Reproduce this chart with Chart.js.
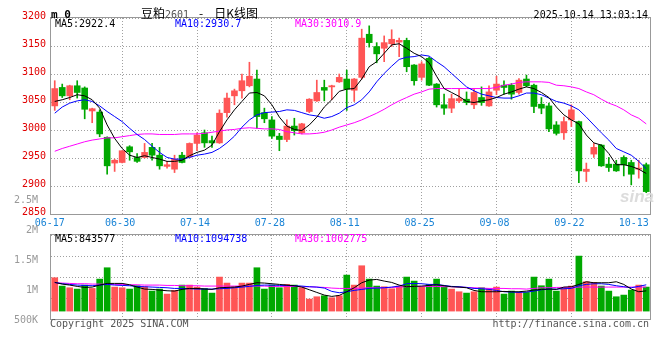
<!DOCTYPE html>
<html><head><meta charset="utf-8">
<script src="https://cdn.jsdelivr.net/npm/chart.js@4"></script>
<style>
html,body{margin:0;padding:0;background:#fff;}
#wrap{position:relative;width:660px;height:360px;overflow:hidden;background:#fff;}
canvas{position:absolute;left:0;}
.t{position:absolute;white-space:nowrap;font-family:'DejaVu Sans Mono','Liberation Mono',monospace;font-size:10px;line-height:10px;color:#000;}
</style></head><body>
<div id="wrap">
<canvas id="priceChart" width="660" height="232" style="top:0"></canvas>
<canvas id="volChart" width="660" height="170" style="top:190px"></canvas>
<div class="t" style="left:51px;top:9px;font-size:11px;line-height:11px;font-weight:bold">m 0</div>
<div class="t" style="left:141px;top:7px;font-family:'Noto Sans CJK SC',sans-serif;font-size:12px;line-height:12px">豆粕<span style="font-family:'DejaVu Sans Mono',monospace;font-size:10px;color:#555">2601</span><span style="margin-left:10px">-</span><span style="margin-left:11px">日K线图</span></div>
<div class="t" style="right:12px;top:10px">2025-10-14 13:03:14</div>
<div class="t" id="pma5" style="left:55px;top:19px;color:#000"></div>
<div class="t" id="pma10" style="left:175px;top:19px;color:#0000ff"></div>
<div class="t" id="pma30" style="left:295px;top:19px;color:#ff00ff"></div>
<div class="t" id="vma5" style="left:55px;top:234px;color:#000"></div>
<div class="t" id="vma10" style="left:175px;top:234px;color:#0000ff"></div>
<div class="t" id="vma30" style="left:295px;top:234px;color:#ff00ff"></div>
<div class="t" style="left:50px;top:319px;color:#555">Copyright 2025 SINA.COM</div>
<div class="t" style="right:11px;top:319px;color:#555">http://finance.sina.com.cn</div>
<div class="t" style="left:620px;top:188px;font-family:'Liberation Sans',sans-serif;font-size:17px;line-height:17px;font-style:italic;font-weight:bold;color:#dcdcdc">sina</div>
</div>
<script>
const dates = ['06-17','06-18','06-19','06-20','06-23','06-24','06-25','06-26','06-27','06-30',
'07-01','07-02','07-03','07-04','07-07','07-08','07-09','07-10','07-11','07-14',
'07-15','07-16','07-17','07-18','07-21','07-22','07-23','07-24','07-25','07-28',
'07-29','07-30','07-31','08-01','08-04','08-05','08-06','08-07','08-08','08-11',
'08-12','08-13','08-14','08-15','08-18','08-19','08-20','08-21','08-22','08-25',
'08-26','08-27','08-28','08-29','09-01','09-02','09-03','09-04','09-05','09-08',
'09-09','09-10','09-11','09-12','09-15','09-16','09-17','09-18','09-19','09-22',
'09-23','09-24','09-25','09-26','09-29','09-30','10-09','10-10','10-13','10-14'];

const openPrice = [3043,3076,3061,3079,3075,3034,3032,2987,2941,2942,
 2970,2951,2951,2969,2955,2935,2930,2955,2952,2976,
 2995,2981,2977,3031,3061,3070,3079,3091,3031,3018,
 2989,2983,3007,2995,3033,3052,3076,3077,3086,3091,
 3071,3094,3171,3149,3146,3154,3157,3160,3116,3094,
 3128,3082,3045,3039,3052,3055,3045,3058,3043,3071,
 3080,3080,3067,3091,3080,3046,3043,3009,2995,3018,
 3015,2926,2957,2973,2939,2939,2951,2942,2930,2938];
const closePrice = [3074,3061,3079,3067,3037,3038,2993,2936,2946,2963,
 2961,2944,2960,2955,2936,2938,2948,2942,2976,2991,
 2977,2977,3030,3057,3070,3088,3096,3024,3020,2989,
 2983,3007,2999,3011,3055,3067,3071,3079,3094,3073,
 3091,3164,3156,3136,3156,3162,3160,3113,3088,3118,
 3080,3045,3039,3056,3056,3049,3067,3049,3068,3082,
 3076,3064,3089,3079,3042,3039,3002,2994,3015,3036,
 2927,2930,2969,2936,2933,2927,2938,2921,2932,2890];
const highPrice = [3088,3082,3080,3088,3077,3039,3036,2988,2948,2963,
 2972,2958,2976,2976,2969,2944,2955,2960,2977,2995,
 3000,2989,3036,3066,3073,3100,3121,3107,3039,3024,
 2994,3018,3021,3012,3056,3089,3089,3080,3100,3107,
 3092,3180,3186,3156,3168,3179,3164,3164,3117,3122,
 3130,3083,3064,3064,3074,3068,3074,3077,3079,3096,
 3088,3083,3092,3098,3082,3058,3048,3015,3023,3045,
 3016,2941,2976,2974,2951,2946,2954,2946,2946,2941];
const lowPrice = [3035,3058,3054,3057,3020,3013,2988,2921,2926,2941,
 2946,2942,2950,2946,2930,2932,2924,2941,2951,2963,
 2969,2969,2976,3023,3045,3057,3077,3003,3013,2985,
 2963,2979,2991,2993,3031,3051,3052,3054,3085,3035,
 3051,3091,3148,3120,3122,3149,3131,3104,3080,3089,
 3079,3041,3028,3031,3049,3045,3038,3044,3042,3063,
 3064,3055,3064,3077,3031,3029,2997,2991,2983,3006,
 2906,2908,2951,2935,2926,2926,2918,2902,2914,2888];

const ma5Price = [3051,3054,3058,3063,3061,3054,3039,3009,2985,2967,
 2955,2951,2954,2951,2948,2944,2944,2946,2954,2960,
 2964,2973,2997,3018,3036,3051,3066,3067,3061,3045,
 3023,3007,3001,2999,3009,3023,3041,3054,3069,3073,
 3074,3091,3113,3122,3137,3152,3154,3146,3137,3131,
 3120,3096,3074,3067,3060,3051,3049,3052,3054,3058,
 3064,3068,3073,3077,3074,3067,3058,3041,3027,3018,
 3011,2991,2977,2973,2958,2938,2938,2935,2930,2922.4];
const ma10Price = [3030,3041,3048,3052,3054,3051,3043,3033,3024,3015,
 3003,2992,2983,2971,2960,2951,2948,2948,2951,2955,
 2957,2960,2967,2977,2989,3005,3018,3027,3031,3032,
 3033,3036,3035,3031,3027,3025,3021,3024,3030,3040,
 3045,3054,3068,3086,3101,3114,3126,3130,3131,3134,
 3132,3122,3113,3101,3089,3077,3070,3064,3061,3058,
 3057,3057,3061,3066,3066,3063,3057,3051,3048,3043,
 3036,3023,3009,2995,2982,2967,2961,2955,2944,2930.7];
const ma30Price = [2962,2967,2971,2975,2979,2982,2984,2986,2986,2988,
 2990,2992,2993,2993,2992,2992,2992,2993,2993,2993,
 2994,2996,2998,3000,3001,3003,3004,3003,3002,3002,
 3001,2997,2995,2993,2993,2994,2996,3000,3005,3009,
 3013,3018,3024,3030,3037,3045,3052,3058,3064,3068,
 3073,3074,3074,3074,3074,3074,3074,3074,3074,3076,
 3080,3082,3085,3086,3086,3086,3085,3080,3079,3077,
 3074,3068,3063,3055,3048,3043,3036,3027,3021,3010.9];

const volume = [1389000,1042000,972000,917000,1083000,944000,1333000,1806000,1000000,972000,
 917000,1056000,1014000,833000,917000,708000,861000,1083000,1083000,1000000,
 944000,750000,1417000,1167000,1014000,1167000,1167000,1806000,917000,1083000,
 972000,1111000,1083000,972000,500000,597000,639000,556000,639000,1500000,
 1083000,1889000,1333000,1042000,1014000,931000,1042000,1417000,1250000,1000000,
 1111000,1333000,1014000,917000,806000,750000,806000,972000,917000,1000000,
 708000,833000,778000,778000,1417000,1056000,1333000,833000,944000,1042000,
 2292000,1222000,1194000,1042000,833000,597000,667000,875000,1083000,1000000];
const ma5Vol = [1194000,1125000,1083000,1028000,986000,1000000,1083000,1153000,1153000,1153000,
 1097000,1000000,917000,903000,875000,847000,833000,903000,944000,944000,
 917000,903000,972000,986000,1000000,1042000,1111000,1181000,1167000,1139000,
 1111000,1083000,1056000,1000000,889000,778000,667000,611000,653000,806000,
 972000,1181000,1292000,1319000,1250000,1194000,1083000,1014000,1028000,1042000,
 1069000,1097000,1056000,1014000,1000000,972000,861000,806000,806000,806000,
 819000,806000,806000,833000,875000,903000,917000,903000,1000000,1014000,
 1111000,1222000,1181000,1181000,1181000,1222000,1111000,917000,806000,843577];
const ma10Vol = [1194000,1139000,1111000,1083000,1069000,1056000,1083000,1111000,1083000,1069000,
 1056000,1028000,1014000,1000000,986000,972000,944000,944000,931000,917000,
 917000,917000,931000,944000,972000,1000000,1028000,1069000,1083000,1083000,
 1069000,1069000,1056000,1042000,1014000,1000000,958000,820000,764000,806000,
 861000,903000,944000,958000,972000,1000000,1042000,1139000,1153000,1139000,
 1111000,1111000,1069000,1028000,1014000,986000,944000,931000,903000,861000,
 806000,792000,778000,792000,833000,889000,917000,917000,931000,944000,
 1056000,1111000,1139000,1139000,1111000,1056000,1014000,972000,1030000,1094738];
const ma30Vol = [1181000,1167000,1153000,1139000,1139000,1125000,1125000,1111000,1111000,1111000,
 1097000,1097000,1083000,1083000,1083000,1069000,1069000,1056000,1056000,1056000,
 1042000,1042000,1042000,1042000,1042000,1042000,1042000,1042000,1042000,1028000,
 1028000,1028000,1028000,1014000,1014000,1000000,986000,958000,944000,944000,
 944000,958000,972000,972000,972000,986000,1000000,1014000,1028000,1028000,
 1028000,1028000,1014000,1014000,1000000,986000,972000,958000,944000,944000,
 944000,931000,931000,917000,944000,972000,972000,986000,986000,986000,
 1000000,1000000,1000000,1000000,1000000,1000000,1000000,1000000,1000000,1002775];

const xTickDates = ['06-17','06-30','07-14','07-28','08-11','08-25','09-08','09-22','10-13'];
const priceTicks = [2850,2900,2950,3000,3050,3100,3150,3200];
const volLabelTicks = [500000,1000000,1500000,2000000,2500000];

document.getElementById('pma5').textContent = 'MA5:' + ma5Price[ma5Price.length-1].toFixed(1);
document.getElementById('pma10').textContent = 'MA10:' + ma10Price[ma10Price.length-1].toFixed(1);
document.getElementById('pma30').textContent = 'MA30:' + ma30Price[ma30Price.length-1].toFixed(1);
document.getElementById('vma5').textContent = 'MA5:' + ma5Vol[ma5Vol.length-1];
document.getElementById('vma10').textContent = 'MA10:' + ma10Vol[ma10Vol.length-1];
document.getElementById('vma30').textContent = 'MA30:' + ma30Vol[ma30Vol.length-1];

const RED = '#ff5555', GREEN = '#00a800', GRID = '#a0a0a0';
const MONO = "'DejaVu Sans Mono','Liberation Mono',monospace";
const candleColors = closePrice.map((c, i) => c >= openPrice[i] ? RED : GREEN);
const xTickIdx = xTickDates.map(d => dates.indexOf(d));

function xAxis(showLabels) {
  return {
    type: 'category', offset: true,
    grid: { offset: false, drawTicks: false, lineWidth: 1,
      color: c => (c.index === 0 || c.index === xTickIdx.length - 1) ? 'rgba(0,0,0,0)' : GRID },
    border: { display: false, dash: [1, 2] },
    ticks: { display: showLabels, autoSkip: false, maxRotation: 0, minRotation: 0,
      padding: 3, labelOffset: -2, color: '#1a84d6', font: { family: MONO, size: 10 },
      callback: (v, i) => (i === 0 || i === xTickIdx.length - 1) ? dates[v] + ' ' : dates[v] },
    afterBuildTicks: s => { s.ticks = xTickIdx.map(v => ({ value: v })); },
    afterFit: s => { s.height = showLabels ? 18 : 0; }
  };
}

const frame = { id: 'frame', afterDraw(chart) {
  const { ctx, chartArea: a } = chart;
  ctx.save(); ctx.strokeStyle = '#999'; ctx.lineWidth = 1;
  ctx.strokeRect(Math.round(a.left) - 0.5, Math.round(a.top) - 0.5,
    Math.round(a.right - a.left) + 1, Math.round(a.bottom - a.top) + 1);
  ctx.restore();
}};

const lineDs = (data, color, axis) => ({ type: 'line', data, borderColor: color, borderWidth: 1,
  pointRadius: 0, tension: 0, fill: false, order: 0, yAxisID: axis });

new Chart(document.getElementById('priceChart'), {
  type: 'bar',
  data: { labels: dates, datasets: [
    lineDs(ma5Price, '#000000', 'y'),
    lineDs(ma10Price, '#0000ff', 'y'),
    lineDs(ma30Price, '#ff00ff', 'y'),
    { data: dates.map((d, i) => [openPrice[i], closePrice[i]]), backgroundColor: candleColors,
      barThickness: 6, grouped: false, minBarLength: 1, order: 2, yAxisID: 'y' },
    { data: dates.map((d, i) => [lowPrice[i], highPrice[i]]), backgroundColor: candleColors,
      barThickness: 1, grouped: false, order: 3, yAxisID: 'y' }
  ]},
  options: {
    responsive: false, animation: false, devicePixelRatio: 1, events: [],
    layout: { padding: { left: 0, right: 10, top: 18, bottom: 0 } },
    plugins: { legend: { display: false }, tooltip: { enabled: false } },
    scales: {
      x: xAxis(true),
      y: { min: 2850, max: 3200,
        grid: { drawTicks: false, color: GRID },
        border: { display: false, dash: [1, 2] },
        ticks: { padding: 5, labelOffset: -2, color: '#e00000', font: { family: MONO, size: 10 },
          callback: v => String(v) },
        afterBuildTicks: s => { s.ticks = priceTicks.map(v => ({ value: v })); },
        afterFit: s => { s.width = 51; } }
    }
  },
  plugins: [frame]
});

new Chart(document.getElementById('volChart'), {
  type: 'bar',
  data: { labels: dates, datasets: [
    lineDs(ma5Vol, '#000000', 'yv'),
    lineDs(ma10Vol, '#0000ff', 'yv'),
    lineDs(ma30Vol, '#ff00ff', 'yv'),
    { data: volume, backgroundColor: candleColors, barThickness: 6, grouped: false, order: 1, yAxisID: 'yv' }
  ]},
  options: {
    responsive: false, animation: false, devicePixelRatio: 1, events: [],
    layout: { padding: { left: 0, right: 10, top: 45, bottom: 41 } },
    plugins: { legend: { display: false }, tooltip: { enabled: false } },
    scales: {
      x: xAxis(false),
      yl: { position: 'left', min: 516667, max: 1916667,
        grid: { display: false }, border: { display: false },
        ticks: { padding: 5, color: '#999999', font: { family: MONO, size: 10 },
          callback: v => v >= 1000000 ? (v / 1000000) + 'M' : (v / 1000) + 'K' },
        afterBuildTicks: s => { s.ticks = volLabelTicks.map(v => ({ value: v })); },
        afterFit: s => { s.width = 51; } },
      yv: { position: 'right', min: -330000, max: 3170000,
        grid: { drawTicks: false, color: GRID },
        border: { display: false, dash: [1, 2] },
        ticks: { display: false, count: 5 },
        afterFit: s => { s.width = 0; } }
    }
  },
  plugins: [frame]
});
</script>
</body></html>
